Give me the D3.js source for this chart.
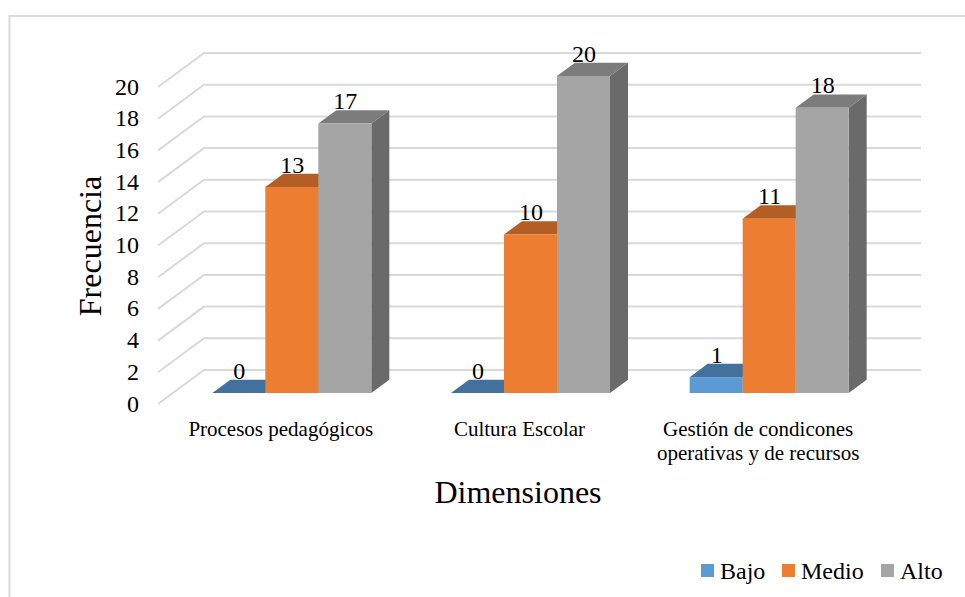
<!DOCTYPE html>
<html>
<head>
<meta charset="utf-8">
<script src="https://cdn.jsdelivr.net/npm/d3@7"></script>
<style>
  html, body { margin: 0; padding: 0; background: #fff; }
  svg { display: block; }
  text { font-family: "Liberation Serif", "Times New Roman", serif; fill: #000; }
</style>
</head>
<body>
<svg id="chart" width="965" height="597"></svg>
<script>
const categories = ["Procesos pedagógicos", "Cultura Escolar", "Gestión de condicones|operativas y de recursos"];
const seriesNames = ["Bajo", "Medio", "Alto"];
const bajo = [0, 0, 1];
const medio = [13, 10, 11];
const alto = [17, 20, 18];
const yTicks = [0, 2, 4, 6, 8, 10, 12, 14, 16, 18, 20];

const front = ["#5b9bd5", "#ed7d31", "#a5a5a5"];
const topFace = ["#41719c", "#b35e24", "#7c7c7c"];
const sideFace = ["#34597c", "#8e4a1c", "#6a6a6a"];

const svg = d3.select("#chart");

// Chart frame: only the top and left edges fall inside the page
svg.append("path").attr("d", "M9.5,597V16H965").attr("fill", "none")
  .attr("stroke", "#d9d9d9").attr("stroke-width", 2);

const y = d3.scaleLinear().domain([0, 20]).range([393, 76]);
const xBand = d3.scaleBand().domain(categories).range([172.5, 888.5]);
const xSeries = d3.scaleBand().domain(seriesNames)
  .range([0, 159]);

// Offsets of the receding floor and wall, and of each bar's depth
const wallDx = 46, wallDy = -34, wallShift = 11;
const depthDx = 18, depthDy = -13.3;

// Gridlines run along the side wall, then across the back wall
const gridY = v => y(v) + 11 ;
const grid = svg.append("g").attr("fill", "none").attr("stroke", "#d9d9d9").attr("stroke-width", 2);
yTicks.forEach(v => {
  const fy = gridY(v);
  grid.append("path").attr("d", d3.line()([[158, fy], [158 + wallDx, fy + wallDy], [921, fy + wallDy]]));
});

// Tick labels for the value axis
svg.append("g").selectAll("text").data(yTicks).join("text")
  .attr("x", 139).attr("y", d => gridY(d) + 7.5).attr("text-anchor", "end")
  .attr("font-size", 24).text(d => d);

// Bars, series by series, so that later series overlap earlier depth faces
const values = [bajo, medio, alto];
const bars = svg.append("g");
seriesNames.forEach((name, s) => {
  categories.forEach((cat, c) => {
    const groupLeft = xBand(cat) + (xBand.bandwidth() - 159) / 2;
    const x0 = groupLeft + xSeries(name);
    const x1 = x0 + xSeries.bandwidth();
    const yt = y(values[s][c]);
    const yb = y(0);
    bars.append("path").attr("fill", sideFace[s])
      .attr("d", d3.line()([[x1, yb], [x1 + depthDx, yb + depthDy], [x1 + depthDx, yt + depthDy], [x1, yt]]));
    bars.append("path").attr("fill", topFace[s])
      .attr("d", d3.line()([[x0, yt], [x0 + depthDx, yt + depthDy], [x1 + depthDx, yt + depthDy], [x1, yt]]));
    bars.append("rect").attr("fill", front[s])
      .attr("x", x0).attr("y", yt).attr("width", x1 - x0).attr("height", yb - yt);
  });
});

// Value labels sit just above the back edge of each bar
const labels = svg.append("g");
seriesNames.forEach((name, s) => {
  categories.forEach((cat, c) => {
    const groupLeft = xBand(cat) + (xBand.bandwidth() - 159) / 2;
    labels.append("text")
      .attr("x", groupLeft + xSeries(name) + xSeries.bandwidth() / 2 + 0.5)
      .attr("y", y(values[s][c]) + depthDy - 1)
      .attr("text-anchor", "middle").attr("font-size", 24)
      .text(values[s][c]);
  });
});

// Category labels, with the long one broken over two lines
const catLabels = svg.append("g");
categories.forEach(cat => {
  const lines = cat.split("|");
  const cx = xBand(cat) + xBand.bandwidth() / 2 - wallShift;
  lines.forEach((line, i) => {
    catLabels.append("text").attr("x", cx).attr("y", 436 + i * 24)
      .attr("text-anchor", "middle").attr("font-size", 21).text(line);
  });
});

// Axis titles
svg.append("text").attr("transform", "translate(101,246) rotate(-90)")
  .attr("text-anchor", "middle").attr("font-size", 32).text("Frecuencia");
svg.append("text").attr("x", 518).attr("y", 503)
  .attr("text-anchor", "middle").attr("font-size", 32).text("Dimensiones");

// Legend
const legendX = [701, 782, 881];
const legend = svg.append("g");
seriesNames.forEach((name, s) => {
  legend.append("rect").attr("x", legendX[s]).attr("y", 564).attr("width", 13).attr("height", 13).attr("fill", front[s]);
  legend.append("text").attr("x", legendX[s] + 19).attr("y", 579).attr("font-size", 24).text(name);
});
</script>
</body>
</html>
